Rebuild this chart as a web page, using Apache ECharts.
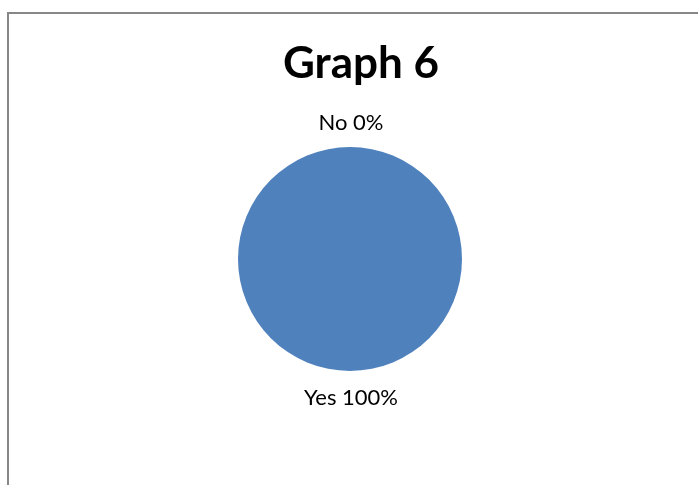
<!DOCTYPE html>
<html>
<head>
<meta charset="utf-8">
<script src="https://cdn.jsdelivr.net/npm/echarts@6/dist/echarts.min.js"></script>
<style>
  html, body { margin: 0; padding: 0; background: #fff; }
  #frame {
    position: absolute; left: 7px; top: 12px; width: 700px; height: 480px;
    border-left: 2px solid #878787; border-top: 2px solid #878787;
  }
  #chart { position: absolute; left: 0; top: 0; width: 698px; height: 485px; }
</style>
</head>
<body>
<div id="frame"></div>
<div id="chart"></div>
<script>
const categories = ['Yes', 'No'];
const values = [100, 0];
const colors = ['#4F81BD', '#C0504D'];

const chart = echarts.init(document.getElementById('chart'), null, { renderer: 'canvas' });
chart.setOption({
  animation: false,
  title: {
    text: 'Graph 6',
    left: 356, top: 37, textAlign: 'center',
    textStyle: { fontFamily: 'Lato', fontWeight: 'bold', fontSize: 44, color: '#000' }
  },
  series: [{
    type: 'pie',
    center: [350, 259],
    radius: 112,
    startAngle: 90,
    clockwise: true,
    stillShowZeroSum: true,
    minShowLabelAngle: 0,
    avoidLabelOverlap: false,
    data: categories.map((c, i) => ({ name: c, value: values[i], itemStyle: { color: colors[i] } })),
    label: {
      show: true,
      position: 'outside',
      formatter: '{b} {d}%',
      fontFamily: 'Lato', fontSize: 22, color: '#000'
    },
    labelLine: { show: false, length: 22, length2: 0 },
    // outside labels get a small side offset; pull them back over the pie's axis
    labelLayout: function (params) {
      const bottom = params.dataIndex === 0;
      return { align: 'center', verticalAlign: 'middle', dx: bottom ? 6 : -4, dy: bottom ? 5 : -2 };
    }
  }]
});
</script>
</body>
</html>
